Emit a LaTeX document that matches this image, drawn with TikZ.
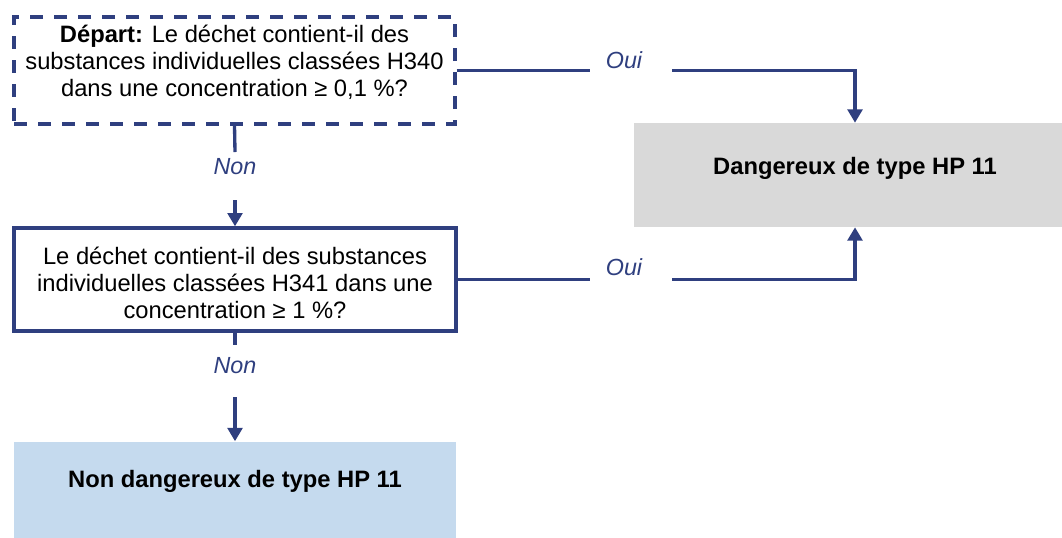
\documentclass[tikz,border=0pt]{standalone}
\usepackage{fontspec}
\setmainfont{Liberation Sans}
\usetikzlibrary{arrows.meta}

\definecolor{flownavy}{RGB}{47,63,127}
\definecolor{boxgray}{RGB}{217,217,217}
\definecolor{boxblue}{RGB}{197,218,238}

\tikzset{
  qbox/.style={draw=flownavy, line width=2.5pt, minimum width=331.5pt, minimum height=77.25pt, inner sep=0pt},
  endbox/.style={fill=#1, minimum width=331.5pt, minimum height=78pt, inner sep=0pt},
  qtext/.style={align=center, font=\fontsize{17.8}{20.3}\selectfont, inner sep=0pt},
  htext/.style={font=\fontsize{17.8}{20.3}\selectfont\bfseries, inner sep=0pt},
  ans/.style={text=flownavy, font=\fontsize{17.5}{20}\selectfont\itshape, inner sep=0pt},
  link/.style={draw=flownavy, line width=2.5pt},
  arrow/.style={link, -{Triangle[width=11pt,length=10pt]}},
}

\begin{document}
\begin{tikzpicture}[x=0.75pt,y=0.75pt,yscale=-1,xscale=1]
	\useasboundingbox (0,0) rectangle (1062,537);
	% boxes
	\node[qbox, dash pattern=on 9.75pt off 8.25pt, minimum width=330.75pt, minimum height=80.25pt,
	  label={[qtext, yshift=6pt]center:{\textbf{Départ:} Le déchet contient-il des\\substances individuelles classées H340\\dans une concentration ≥ 0,1 \%?}}] (start) at (234.5,70.5) {};
	\node[qbox, label={[qtext, yshift=-2.6pt]center:{Le déchet contient-il des substances\\individuelles classées H341 dans une\\concentration ≥ 1 \%?}}] (q2) at (235,279.5) {};
	\node[endbox=boxgray, label={[htext, yshift=5.25pt]center:Dangereux de type HP 11}] (danger) at (855,175) {};
	\node[endbox=boxblue, label={[htext, yshift=9.4pt]center:Non dangereux de type HP 11}] (nonhaz) at (235,493.5) {};
	% Oui branches
	\coordinate (g1a) at (590,70.5);
	\coordinate (g1b) at (672,70.5);
	\node[ans] (oui1) at (624,60) {Oui};
	\draw[link] (start.east) -- (g1a);
	\draw[arrow] (g1b) -| (danger.north);
	\coordinate (g2a) at (590,279.5);
	\coordinate (g2b) at (672,279.5);
	\node[ans] (oui2) at (624,267) {Oui};
	\draw[link] (q2.east) -- (g2a);
	\draw[arrow] (g2b) -| (danger.south);
	% Non branches
	\coordinate (n1a) at (235,152);
	\coordinate (n1b) at (235,200);
	\node[ans] (non1) at (235,167) {Non};
	\draw[link] (start.south) -- (n1a);
	\draw[arrow] (n1b) -- (q2.north);
	\coordinate (n2a) at (235,345);
	\coordinate (n2b) at (235,397);
	\node[ans] (non2) at (235,366) {Non};
	\draw[link] (q2.south) -- (n2a);
	\draw[arrow] (n2b) -- (nonhaz.north);
\end{tikzpicture}
\end{document}
